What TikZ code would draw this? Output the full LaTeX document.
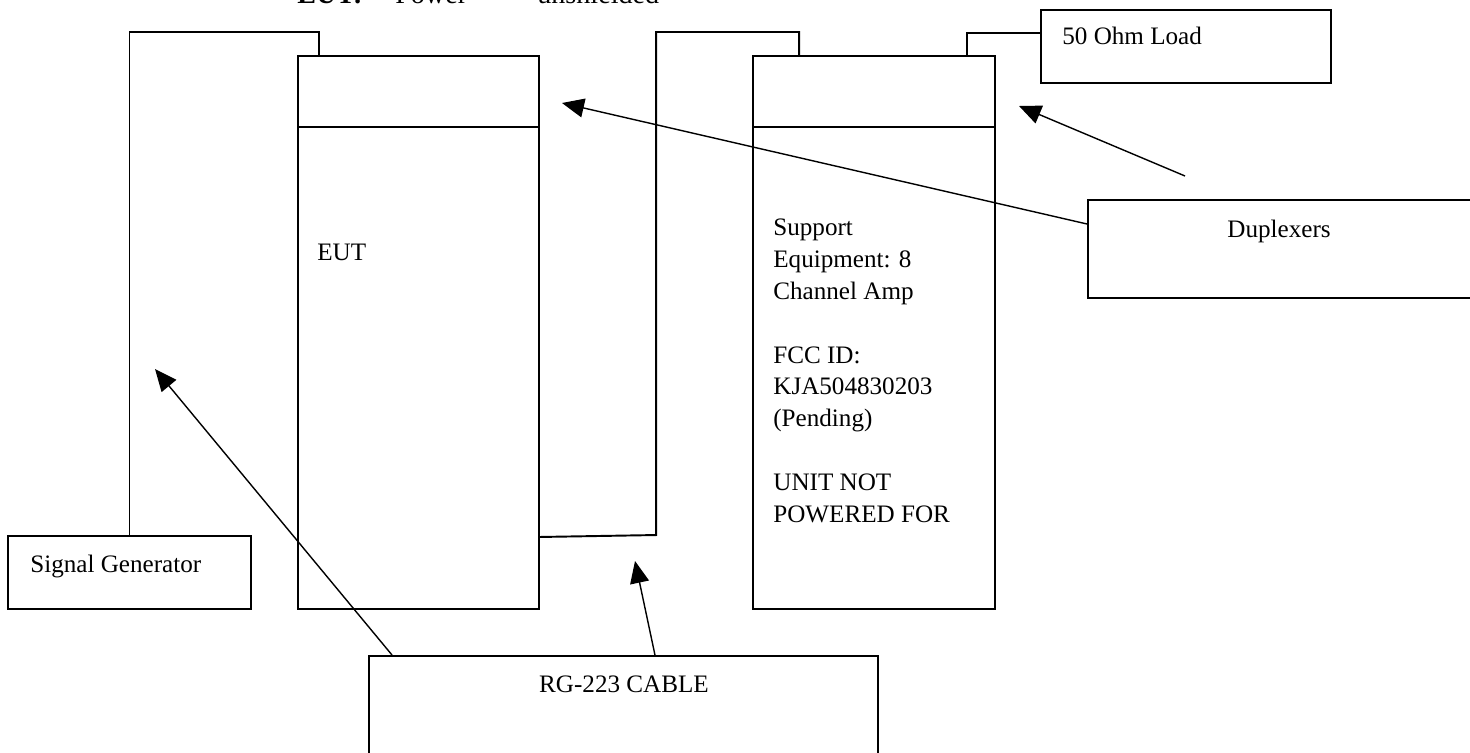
\documentclass[tikz,border=0pt]{standalone}
\usepackage{fontspec}
\setmainfont{Liberation Serif}
\usetikzlibrary{positioning, arrows.meta, fit}

\begin{document}
\begin{tikzpicture}[x=0.02cm, y=-0.02cm,
    font=\fontsize{14.3}{18.1}\selectfont,
    box/.style={draw, line width=1.1pt, inner sep=0pt},
    wire/.style={line width=1.1pt},
    pointer/.style={line width=0.8pt, -{Triangle[length=4.4mm, width=3.8mm]}},
    lbl/.style={inner sep=0pt, anchor=base west}]
  \useasboundingbox (0,0) rectangle (1470,753);
  \clip (0,0) rectangle (1470,753);

  \node[lbl, font=\fontsize{16}{19}\selectfont] (title) at (297,4) {\textbf{EUT:}\hspace{18.7pt}Power\hspace{40pt}unshielded};

  % boxes
  \node[box, fit={(298,56) (539,609)}] (eut) {};
  \node[box, fit={(753,56) (995,609)}] (sup) {};
  \node[box, fit={(8,536) (251,609)}] (sg) {};
  \node[box, fit={(1041,10) (1331,83)}] (load) {};
  \node[box, fit={(1088,200) (1500,298)}] (dup) {};
  \node[box, fit={(369,656) (878,780)}] (cable) {};
  \draw[wire] ([yshift=-1.44cm]eut.north west) -- ([yshift=-1.44cm]eut.north east);
  \draw[wire] ([yshift=-1.44cm]sup.north west) -- ([yshift=-1.44cm]sup.north east);

  % texts
  \node[lbl] (eutlbl) at (317,260) {EUT};
  \node[lbl] (sglbl) at (30,572) {Signal Generator};
  \node[lbl] (loadlbl) at (1062,45) {50 Ohm Load};
  \node[lbl, anchor=base] (duplbl) at (1279,237) {Duplexers};
  \node[lbl, anchor=base] (cablelbl) at (624,692) {RG-223 CABLE};
  \node[inner sep=0pt, anchor=north west, align=left] (suplbl) at (773,219)
    {Support\\Equipment: 8\\Channel Amp\\[18.1pt]FCC ID:\\KJA504830203\\(Pending)\\[18.1pt]UNIT NOT\\POWERED FOR};

  % cables
  \draw[wire] ([xshift=0.44cm]eut.north west) -- ++(0,-23) -| (sg.north);
  \draw[wire] ([xshift=0.94cm]sup.north west) -- ++(0,-23) -| ++(-143,503) -- ([yshift=1.46cm]eut.south east);
  \draw[wire] ([yshift=0.27cm]load.west) -| ([xshift=4.3cm]sup.north west);

  % pointers
  \coordinate (duptip) at (562,103);
  \coordinate (suptip) at (1019,106);
  \coordinate (duptail) at (1185,176);
  \coordinate (sgtip) at (155,369);
  \coordinate (cabletip) at (635,561);
  \draw[pointer] ([yshift=0.5cm]dup.west) -- (duptip);
  \draw[pointer] (duptail) -- (suptip);
  \draw[pointer] ([xshift=0.48cm]cable.north west) -- (sgtip);
  \draw[pointer] ([xshift=5.74cm]cable.north west) -- (cabletip);
\end{tikzpicture}
\end{document}
